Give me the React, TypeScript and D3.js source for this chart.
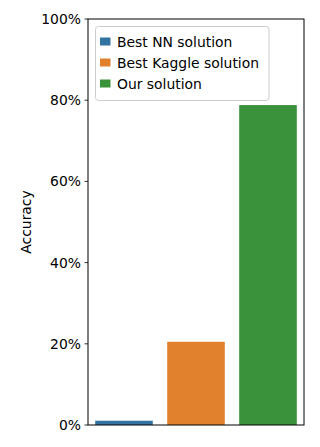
import React from "react";
import * as d3 from "d3";

const categories = ["Best NN solution", "Best Kaggle solution", "Our solution"];
const values = [1.05, 20.5, 78.8];
const colors = ["#3274a1", "#e1812c", "#3a923a"];
const yTicks = [0, 20, 40, 60, 80, 100];
const yLabel = "Accuracy";

const W = 320, H = 447;
const left = 88, right = 304, top = 19, bottom = 425;
const font = "DejaVu Sans, sans-serif";
const fs = 13.9;

export default function App() {
  const x = d3.scaleBand<string>().domain(categories).range([left, right]).paddingInner(0.2).paddingOuter(0.1);
  const y = d3.scaleLinear().domain([0, 100]).range([bottom, top]);
  return (
    <svg width={W} height={H} style={{ position: "absolute", left: 0, top: 0 }}>
      <rect x={0} y={0} width={W} height={H} fill="white" />
      {categories.map((c, i) => (
        <rect key={c} x={x(c)!} y={y(values[i])} width={x.bandwidth()} height={bottom - y(values[i])} fill={colors[i]} />
      ))}
      <rect x={left} y={top} width={right - left} height={bottom - top} fill="none" stroke="black" strokeWidth={1} />
      {yTicks.map((t) => (
        <g key={t}>
          <line x1={left - 3.5} x2={left} y1={y(t)} y2={y(t)} stroke="black" strokeWidth={0.8} />
          <text x={left - 7} y={y(t)} dy="0.36em" textAnchor="end" fontFamily={font} fontSize={fs} fill="black">{t}%</text>
        </g>
      ))}
      <text transform={`translate(30.5,${(top + bottom) / 2}) rotate(-90)`} textAnchor="middle" fontFamily={font} fontSize={fs} fill="black">{yLabel}</text>
      <g>
        <rect x={95.5} y={26.5} width={173.5} height={74} rx={3} fill="white" fillOpacity={0.8} stroke="#cccccc" strokeWidth={1} />
        {categories.map((c, i) => (
          <g key={c}>
            <rect x={100} y={37.5 + i * 21} width={10.5} height={8} fill={colors[i]} />
            <text x={117} y={42 + i * 21} dy="0.36em" fontFamily={font} fontSize={fs} fill="black">{c}</text>
          </g>
        ))}
      </g>
    </svg>
  );
}
